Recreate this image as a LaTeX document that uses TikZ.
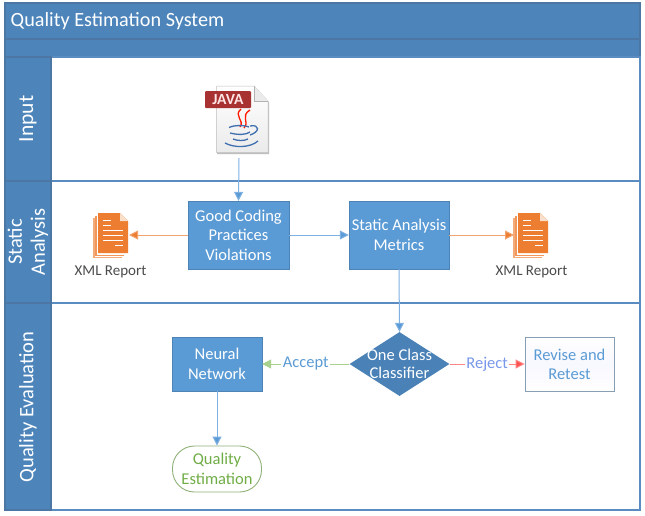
\documentclass[tikz,border=0pt]{standalone}
\usepackage{fontspec}
\setmainfont{Carlito}
\usetikzlibrary{shapes.geometric,arrows.meta}
\definecolor{hdr}{HTML}{4D85BB}
\definecolor{hdrline}{HTML}{5A8CC2}
\definecolor{boxblue}{HTML}{5B9BD5}
\definecolor{dia}{HTML}{4A82B8}
\definecolor{orangeA}{HTML}{ED7D31}
\definecolor{arrowblue}{HTML}{7FB0E2}
\definecolor{greenA}{HTML}{A9D18E}
\definecolor{redA}{HTML}{FF5050}
\definecolor{textblue}{HTML}{5B9BD5}
\definecolor{greenT}{HTML}{70AD47}
\definecolor{javablue}{HTML}{3F6FB0}
\definecolor{javared}{HTML}{A83232}
\tikzset{
  x=1pt,y=-1pt,
  band/.style={draw=hdrline!85!black,fill=hdr,line width=1.4pt},
  lane/.style={draw=hdrline,fill=white,line width=1.6pt},
  lanelabel/.style={rotate=90,text=white,font=\fontsize{20.5}{23}\selectfont,align=center,inner sep=0pt},
  procbox/.style={draw=boxblue!85!black,fill=boxblue,text=white,align=center,font=\fontsize{16.5}{19.5}\selectfont,inner sep=0pt,line width=0.4pt},
  conn/.style={draw=arrowblue,line width=1pt,-{Triangle[length=9pt,width=9pt,fill=boxblue]}},
  oconn/.style={draw=orangeA!70,line width=1pt,-{Triangle[length=9pt,width=9pt,fill=orangeA]}},
  gconn/.style={draw=greenA,line width=1pt,-{Triangle[length=9pt,width=9pt,fill=greenA]}},
  rconn/.style={draw=redA!70,line width=1pt,-{Triangle[length=9pt,width=9pt,fill=redA]}},
  edgelabel/.style={fill=white,inner sep=1.5pt,font=\fontsize{16.5}{18}\selectfont},
  xmllabel/.style={text=black!70,font=\fontsize{15}{16}\selectfont,inner sep=0pt},
}
\newcommand{\xmlicon}[2]{%
  \begin{scope}[shift={(#1,#2)}]
    \fill[orangeA!65] (-5,5) rectangle (24,45);
    \fill[white] (-3.5,3.5) rectangle (25,43.5);
    \fill[orangeA!80] (-3,3) rectangle (26,43);
    \fill[white] (-1.5,1.5) rectangle (27,41.5);
    \fill[orangeA] (0,0) -- (22,0) -- (30,8) -- (30,40) -- (0,40) -- cycle;
    \fill[orangeA!25] (22,0) -- (30,8) -- (22,8) -- cycle;
    \draw[white,line width=1pt] (5,7) -- (13,7) (5,12) -- (13,12) (5,17.5) -- (25,17.5) (5,22.5) -- (25,22.5) (5,27.5) -- (25,27.5) (17,32.5) -- (25,32.5);
  \end{scope}}
\begin{document}
\begin{tikzpicture}
\useasboundingbox (0,0) rectangle (645,515);
% lanes
\draw[band] (5,3) rectangle (640,39);
\draw[band] (5,39) rectangle (640,57);
\draw[lane] (51,57) rectangle (640,181);
\draw[lane] (51,181) rectangle (640,303);
\draw[lane] (51,303) rectangle (640,510);
\draw[band] (5,57) rectangle (51,181);
\draw[band] (5,181) rectangle (51,303);
\draw[band] (5,303) rectangle (51,510);
\node[text=white,anchor=west,font=\fontsize{20.2}{22}\selectfont,inner sep=0pt] (title) at (10.5,21) {Quality Estimation System};
\node[lanelabel,font=\fontsize{21.5}{23}\selectfont] (linput) at (28,119) {Input};
\node[lanelabel] (lstatic) at (28,242) {Static\\Analysis};
\node[lanelabel] (lquality) at (28,407) {Quality Evaluation};
% java file icon
\fill[black!25] (217,87) -- (254,87) -- (269,102) -- (269,154) -- (217,154) -- cycle;
\shade[top color=white,bottom color=black!8] (216.5,86) -- (254,86) -- (268,101) -- (268,152.5) -- (216.5,152.5) -- cycle;
\draw[black!25,line width=0.5pt] (216.5,86) -- (254,86) -- (268,101) -- (268,152.5) -- (216.5,152.5) -- cycle;
\fill[black!8] (254,86) -- (268,101) -- (254,101) -- cycle;
\draw[black!30,line width=0.5pt] (254,86) -- (254,101) -- (268,101);
\node[fill=javared,rounded corners=1pt,text=white!90!red,font=\fontsize{15.5}{16}\selectfont\bfseries,minimum width=46pt,minimum height=17pt,inner sep=0pt] (java) at (228,99.5) {JAVA};
\draw[red!80!orange,line width=1.3pt] (241,109) .. controls (233,116) and (245,120) .. (240,127);
\draw[red!80!orange,line width=1.3pt] (250,110) .. controls (240,116) and (250,122) .. (244,128);
\draw[javablue,line width=1.3pt] (229,127.5) .. controls (234,125) and (244,125) .. (249,127) (230,133) .. controls (238,135) and (246,135) .. (250,132) (233,139) .. controls (238,141) and (244,141) .. (248,139) (225,143) .. controls (234,148) and (250,148) .. (258,141) (250,126) .. controls (260,124) and (260,132) .. (250,135);
% boxes
\node[procbox,minimum width=101pt,minimum height=68pt] (gcp) at (238.5,235) {Good Coding\\Practices\\Violations};
\node[procbox,minimum width=100pt,minimum height=68pt] (sam) at (399,235) {Static Analysis\\Metrics};
\node[procbox,minimum width=90pt,minimum height=54pt] (nn) at (217,364) {Neural\\Network};
\node[diamond,aspect=1.56,fill=dia,inner sep=0pt,minimum width=100pt,minimum height=64pt] (occ) at (399.5,364) {};
\node[text=white,align=center,font=\fontsize{16.5}{18.5}\selectfont,inner sep=0pt] (occt) at (399.5,364) {One Class\\Classifier};
\node[draw=boxblue!60!black!60,line width=0.9pt,top color=white,bottom color=white,middle color=blue!3,text=textblue,align=center,font=\fontsize{16.5}{19}\selectfont,inner sep=0pt,minimum width=89pt,minimum height=54pt] (rr) at (569.5,364) {Revise and\\Retest};
\node[draw=greenA!85!black,line width=0.9pt,fill=white,rounded corners=22pt,text=greenT,align=center,font=\fontsize{16.5}{19.5}\selectfont,inner sep=0pt,minimum width=89pt,minimum height=46pt] (qe) at (217,469) {Quality\\Estimation};
% xml reports
\xmlicon{98}{213}
\xmlicon{518}{213}
\coordinate (xl) at (129,235);
\coordinate (xr) at (514,235);
\coordinate (jb) at (239,158);
\node[xmllabel] (xmll) at (110.5,271.5) {XML Report};
\node[xmllabel] (xmlr) at (531.5,271.5) {XML Report};
% connectors
\draw[conn] (jb) -- (gcp.north);
\draw[oconn] (gcp.west) -- (xl);
\draw[conn] (gcp.east) -- (sam.west);
\draw[oconn] (sam.east) -- (xr);
\draw[conn] (sam.south) -- (occ.north);
\draw[gconn] (occ.west) -- node[edgelabel,text=textblue,pos=0.5] (acc) {Accept} (nn.east);
\draw[rconn] (occ.east) -- node[edgelabel,text=blue!30!textblue!70,pos=0.5] (rej) {Reject} (rr.west);
\draw[conn] (nn.south) -- (qe.north);
\end{tikzpicture}
\end{document}
